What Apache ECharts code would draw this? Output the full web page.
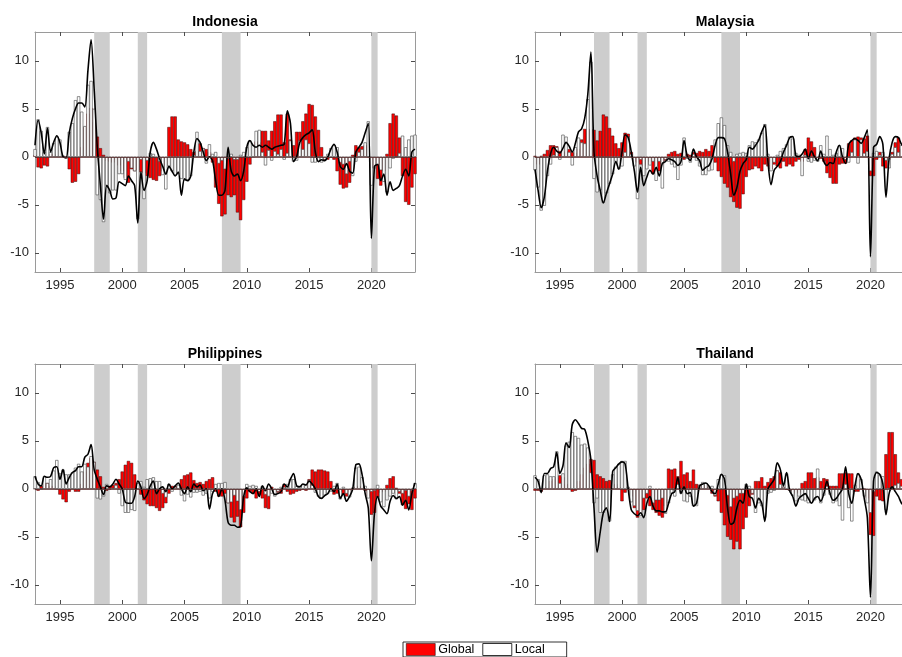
<!DOCTYPE html>
<html><head><meta charset="utf-8">
<script src="https://cdn.jsdelivr.net/npm/echarts@6/dist/echarts.min.js"></script>
<style>html,body{margin:0;padding:0;background:#fff}#c{width:902px;height:657px}</style>
</head><body><div id="c"></div>
<script>
const startYear = 1993;
const xTicks = [1995, 2000, 2005, 2010, 2015, 2020];
const yTicks = [-10, -5, 0, 5, 10];
const recessions = [[1997.75, 1999.0], [2001.25, 2002.0], [2008.0, 2009.5], [2020.0, 2020.5]];
const countries = ['Indonesia', 'Malaysia', 'Philippines', 'Thailand'];

const indonesiaGlobal = [
 0.2,-1.1,-1.2,-0.9, -1.0,0.3,0.3,0.1, 0.1,0.1,0.0,-1.3, -2.7,-2.6,-1.8,1.0,
 3.1,4.5,5.1,3.6, 2.1,0.9,0.2,-0.4, -0.5,-0.6,-0.3,-0.9, -1.5,-2.2,-2.7,-1.3,
 -1.5,-1.4,-1.6,-1.7, -2.0,-2.2,-2.4,-2.5, -2.0,-1.5,-0.9,3.1, 4.2,4.2,1.8,1.6,
 1.5,1.3,0.8,0.5, 0.6,1.4,0.9,0.8, 0.5,-0.6,-3.2,-4.9, -6.2,-6.0,-4.0,-4.2,
 -4.0,-5.8,-6.6,-4.5, -2.6,-0.8,0.0,1.6, 1.5,2.7,2.7,1.7, 2.7,3.7,4.4,4.4,
 1.5,4.5,1.8,1.2, 2.6,2.6,3.7,4.5, 5.5,5.4,4.2,2.8, 1.0,-0.4,-0.3,-0.1,
 -0.3,-1.5,-2.9,-3.3, -3.2,-2.7,0.2,1.2, 1.0,1.1,1.2,0.0, -1.2,-1.1,-2.3,-3.0,
 -1.5,0.3,3.5,4.5, 4.3,2.0,-2.0,-4.7, -5.0,-3.2,-1.8];
const indonesiaLocal = [
 0.8,3.9,2.7,0.5, 3.1,0.5,1.4,2.1, 1.8,0.1,-0.2,2.6, 3.5,5.9,6.3,4.7,
 3.2,7.5,7.9,5.0, -4.0,-4.5,-6.8,-3.0, -3.8,-3.5,-3.5,-1.8, -1.8,-2.4,-0.5,-1.2,
 -1.5,-6.5,-0.3,-4.4, -0.4,0.4,0.3,-0.1, -0.5,-1.9,-3.4,-1.0, -1.5,-1.9,-1.8,-2.3,
 -2.5,-2.4,-2.0,0.2, 2.6,0.6,0.9,-0.7, 1.3,0.3,0.5,-0.7, -0.4,-1.3,-0.2,0.3,
 -0.3,-0.3,0.2,0.5, 1.0,1.7,1.2,2.7, 2.8,0.5,-0.9,0.7, -0.4,0.6,0.3,0.8,
 -0.3,0.4,1.7,-0.5, -0.4,1.7,0.8,1.8, 1.4,-0.6,-0.6,-0.5, -0.6,-0.3,0.3,0.9,
 1.2,1.0,-0.6,-0.8, -1.8,-0.5,-2.0,-0.5, 0.5,0.8,1.5,3.7, -3.0,-1.2,-0.8,-1.4,
 -2.6,-3.7,-1.2,-0.2, 0.0,0.4,2.2,1.0, 1.8,2.2,2.3];
const indonesiaTotal = [
 1.2,3.8,2.5,0.3, 3.0,0.5,1.5,2.2, 1.5,0.0,-0.1,2.5, 4.0,5.0,5.6,5.6,
 5.2,9.0,12.2,7.0, 1.0,-3.0,-6.5,-3.0, -3.5,-4.4,-4.3,-2.6, -2.8,-3.0,-2.0,-2.5,
 -3.0,-6.9,-1.6,-3.5, -2.5,0.5,1.5,0.8, -0.2,-1.0,-1.8,-1.0, -1.5,-2.0,-1.6,-4.0,
 -2.3,-2.5,-2.0,0.5, 1.9,1.5,0.5,-0.4, 0.0,-0.4,-2.5,-4.0, -4.0,-3.5,1.0,-1.5,
 -2.0,-1.8,-2.5,-1.5, 1.0,1.7,1.2,1.0, 1.2,1.0,1.2,1.0, 0.8,1.0,1.1,1.2,
 1.3,4.8,3.5,-0.5, 0.0,1.5,2.0,2.3, 2.5,2.8,0.5,-0.5, -0.3,-0.4,0.0,0.8,
 1.3,0.5,-1.0,-1.3, -0.7,-1.5,-1.7,0.5, 1.0,1.5,2.5,3.5, -8.5,-1.0,-0.8,-2.5,
 -1.8,-4.0,-2.6,-3.5, -3.3,-3.0,-2.0,-1.3, -2.0,0.5,0.8];

const malaysiaGlobal = [
 0.1,-0.8,0.1,0.3, 0.7,1.2,1.2,1.1, 0.6,0.5,0.6,0.8, 0.5,0.4,0.8,1.8,
 2.9,2.9,2.9,2.8, 1.7,2.7,4.4,4.2, 3.0,2.2,1.4,0.9, 1.5,2.5,2.4,0.5,
 -0.5,-0.6,-0.8,-1.0, -0.8,-0.5,-1.8,-1.0, -1.5,-0.8,-0.4,0.3, 0.5,0.6,0.3,0.4,
 -0.3,0.3,0.2,0.5, 0.4,0.6,0.5,0.8, 0.6,1.2,-0.6,-1.5, -2.1,-2.8,-3.2,-4.2,
 -4.7,-5.3,-5.4,-3.9, -2.1,-1.4,-1.3,-1.0, -1.2,-1.5,-0.8,-1.0, -1.3,-0.8,-1.0,-1.2,
 -0.5,-1.0,-0.8,-1.0, -0.5,-0.3,-0.5,0.8, 2.0,1.6,1.0,-0.2, -0.2,-0.5,-1.7,-2.2,
 -2.8,-2.8,-0.8,-0.7, -0.7,1.4,1.7,2.0, 2.1,2.0,1.9,2.2, -2.0,-2.0,-0.3,0.5,
 -1.0,-1.2,-0.3,0.5, 1.5,2.0,0.8,1.0, 0.8,0.6,0.5];
const malaysiaLocal = [
 -1.4,-3.2,-5.6,-5.1, -2.0,-0.8,0.2,1.0, -0.3,2.3,2.1,0.5, -0.9,1.0,2.0,1.5,
 1.4,6.0,9.9,-2.3, -3.7,-3.5,-4.8,-3.8, -2.8,-1.8,-0.5,-1.3, -1.0,0.5,2.1,0.3,
 -1.0,-4.4,-0.3,-2.0, -1.3,-0.9,-0.5,-2.5, -0.5,-3.3,-0.3,-0.5, -0.8,-1.1,-2.4,-0.9,
 2.0,-0.2,-0.6,0.3, -0.4,-1.0,-1.9,-1.9, -1.5,-1.4,1.8,3.5, 4.1,3.3,1.2,0.5,
 -0.5,0.3,0.4,0.5, 0.4,1.2,1.6,1.5, 1.8,2.5,3.4,0.3, -1.5,-0.6,0.2,0.6,
 0.9,1.3,2.1,1.9, 0.4,0.2,-2.0,0.2, -0.5,-0.6,-0.4,-0.5, 1.2,0.3,2.2,0.8,
 0.2,0.4,1.2,0.9, -0.3,-0.6,0.5,1.8, -0.7,1.8,0.4,0.6, -1.5,0.4,0.6,0.2,
 0.5,-0.4,-1.2,0.3, 1.0,0.5,1.2,0.3, 0.2,0.3,0.3];
const malaysiaTotal = [
 -1.3,-3.5,-5.3,-4.2, -1.5,0.3,1.0,0.6, 0.4,0.9,1.5,1.1, 0.5,1.4,2.6,2.9,
 4.0,6.5,10.9,0.5, -2.0,-3.5,-4.8,-3.8, -2.8,-1.8,-0.5,-1.3, 0.5,2.3,2.0,0.5,
 -1.5,-3.7,-1.1,-3.0, -2.1,-1.4,-1.8,-1.1, -2.0,-0.7,-0.5,-0.2, -0.3,-0.5,-0.9,-0.5,
 1.7,0.1,-0.4,0.8, 0.0,-0.4,-1.4,-1.1, -0.9,-0.2,1.2,2.0, 2.0,1.9,0.5,-1.8,
 -4.0,-3.2,-1.5,-0.7, -0.3,1.0,0.8,1.2, 1.7,2.6,3.3,-0.5, -2.9,-1.4,-1.0,-0.5,
 0.5,1.2,2.0,2.1, 0.1,0.0,0.3,0.8, -0.2,0.6,0.0,-0.4, 0.6,-0.5,-0.9,-0.6,
 -0.7,0.5,1.2,0.0, -0.7,1.3,1.7,1.9, 1.7,1.4,2.0,2.8, -10.4,1.0,1.3,2.1,
 1.3,-4.2,-0.2,1.5, 2.1,2.0,1.3,1.0, 1.0,0.8,0.7];

const philippinesGlobal = [
 0.0,-0.2,0.3,0.6, 0.6,0.3,0.3,0.0, -0.6,-1.1,-1.4,-0.3, 0.0,-0.3,-0.3,0.5,
 1.8,2.7,3.2,2.8, 2.0,1.3,0.2,-0.2, 0.3,0.4,0.6,1.0, 1.8,2.5,2.9,2.7,
 1.5,0.2,-0.6,-1.2, -1.6,-1.8,-1.8,-2.0, -2.3,-2.0,-1.5,-0.5, 0.3,0.3,0.2,1.0,
 1.4,1.5,1.7,0.9, 0.6,0.7,0.5,0.8, 1.0,1.2,-0.3,-0.8, -0.8,-0.5,-1.5,-3.0,
 -3.5,-2.9,-4.0,-2.5, -1.0,-0.3,-0.5,-1.0, -0.6,-1.0,-2.0,-2.1, 0.2,-0.3,-0.4,-0.5,
 0.5,-0.3,-0.6,-0.5, -0.3,-0.2,-0.1,-0.2, 1.0,2.0,1.8,2.0, 2.0,1.9,1.8,0.8,
 -0.6,-0.5,-0.3,-0.6, -0.8,-0.3,0.1,0.2, 0.3,0.2,-0.2,-0.8, -2.7,-2.5,-0.9,-0.4,
 -0.3,0.4,1.1,1.3, 0.1,-0.5,-1.7,-2.1, -1.6,-2.2,-1.0];
const philippinesLocal = [
 1.3,0.7,0.0,1.3, 0.6,1.0,1.9,3.0, 1.6,2.0,1.5,1.5, 1.7,2.2,2.6,1.8,
 2.6,2.3,3.4,2.8, -1.0,-1.1,-0.8,0.5, -0.1,0.1,0.4,-0.5, -1.8,-2.5,-2.5,-2.2,
 -2.3,0.6,0.8,0.2, 1.0,1.1,1.2,0.8, 0.8,-0.5,-0.9,0.5, -0.3,0.2,0.4,-0.7,
 -1.3,-0.6,-0.9,-0.4, -0.4,-0.3,-0.7,-0.5, -1.0,-0.3,0.5,0.6, 0.6,0.7,-1.5,-1.4,
 -0.7,-1.3,-2.2,-0.8, 0.5,0.3,0.4,0.3, -0.3,0.3,-0.6,-0.8, -0.5,-0.8,-0.3,0.2,
 0.2,0.5,1.0,1.0, 0.3,0.3,0.5,0.4, 0.9,0.4,-0.4,-0.8, -1.0,-0.7,-0.5,-0.3,
 0.3,0.6,-1.1,0.2, -0.5,-0.9,0.1,2.2, 2.3,1.2,0.3,-1.0, -0.3,-0.2,0.4,-1.4,
 -1.9,-1.2,-0.8,-0.5, -1.1,-0.3,-0.5,-0.2, -0.8,-0.2,0.6];
const philippinesTotal = [
 1.3,0.5,0.3,1.3, 1.2,1.3,2.2,2.3, 1.0,2.0,0.5,1.2, 1.7,1.9,2.3,2.3,
 3.3,3.6,4.6,2.0, 1.0,0.2,-0.6,0.3, 0.2,0.5,1.0,0.5, 0.0,-1.4,-1.5,-1.5,
 -0.8,0.8,0.2,-1.0, -0.6,0.3,0.8,-0.5, 0.0,0.2,-0.3,0.5, 0.0,0.3,0.6,0.0,
 -0.5,0.2,-0.3,0.5, 0.2,0.4,-0.2,0.0, -2.1,-0.5,0.0,-0.8, 0.0,-1.2,-3.5,-3.8,
 -3.8,-4.0,-3.9,-0.8, 0.1,-0.3,-0.5,0.0, -0.8,0.3,-0.2,0.5, 0.0,-0.6,-0.5,-0.3,
 0.5,0.2,1.0,1.6, 0.3,0.2,0.5,0.4, 0.8,0.5,0.0,-0.8, -1.0,-0.7,-0.5,0.0,
 -0.3,0.5,-1.0,-0.5, -1.3,-0.8,0.0,2.5, 2.6,1.5,-0.5,-2.0, -7.5,-2.5,-0.8,-1.8,
 -2.2,-2.6,-1.3,-0.7, -1.0,-0.8,-1.7,-1.2, -2.2,-0.5,0.6];

const thailandGlobal = [
 -0.2,-0.2,-0.3,0.2, 0.1,0.8,1.0,1.2, 1.4,1.2,0.5,0.1, -0.3,-0.2,0.8,1.5,
 2.2,2.6,3.1,3.0, 1.5,1.3,1.1,0.8, 0.9,0.4,0.5,0.2, -1.3,-0.4,0.0,-0.8,
 -2.0,-3.0,-2.5,-2.2, -1.0,-1.8,-2.2,-2.5, -2.8,-3.0,-1.8,2.1, 2.0,2.1,1.3,2.9,
 1.5,1.7,0.8,2.0, 0.5,0.4,0.5,0.4, 0.2,-0.5,-0.8,-1.3, -2.5,-3.8,-5.0,-5.3,
 -6.3,-5.5,-6.3,-4.2, -3.0,-1.8,-0.6,0.8, 0.8,1.2,0.3,0.7, 1.1,1.3,1.9,1.7,
 0.2,-0.1,-0.2,-0.3, -0.5,-0.4,0.6,0.8, 1.7,1.7,1.1,1.2, 0.8,1.1,1.0,0.3,
 0.3,0.3,1.6,1.6, 1.7,1.6,1.6,-0.3, -0.3,0.0,0.0,-1.0, -4.8,-4.9,-0.8,-1.2,
 -1.3,3.6,5.9,5.9, 3.6,1.7,1.0,0.8, 0.5,0.3,0.2];
const thailandLocal = [
 1.4,1.0,-0.1,1.4, 1.5,1.3,1.3,3.9, 0.6,1.6,4.5,4.9, 5.9,5.5,5.3,4.6,
 4.7,4.3,1.7,-1.5, -1.0,-2.5,-2.5,-2.0, -3.4,1.5,2.3,2.6, 2.9,2.9,0.2,-1.4,
 -1.8,-2.3,-2.8,-1.0, -0.5,0.3,-1.5,-1.2, -1.2,-1.0,-2.6,-1.5, -0.5,-0.8,0.5,-0.5,
 -1.3,-1.4,-0.8,-1.8, -1.8,0.4,0.7,0.6, 0.2,0.3,-0.7,1.0, 1.5,1.4,-0.7,-1.9,
 -1.0,-0.8,-0.5,-0.5, 0.5,0.3,-0.5,-2.5, -1.5,-1.8,-3.0,-0.5, -0.4,-0.2,1.9,0.5,
 0.2,1.6,-0.2,-0.7, -1.3,-0.8,-1.2,-1.3, -1.5,-1.5,-1.2,2.1, -1.5,-0.7,0.3,-0.6,
 -1.5,-1.3,-1.8,-3.3, 0.5,-2.0,-3.4,0.4, 1.6,1.0,-0.8,-1.5, -2.5,-0.3,1.8,1.5,
 1.3,-2.2,0.1,0.1, 0.4,0.6,0.3,-0.5, -0.5,-0.3,-0.3];
const thailandTotal = [
 1.2,0.8,-0.4,1.6, 1.6,2.1,2.3,3.8, 1.6,2.4,4.8,4.3, 6.7,7.2,6.8,6.3,
 6.2,5.0,3.0,-2.0, -6.6,-4.5,-2.5,-2.0, -3.4,1.8,2.2,2.6, 2.8,2.6,0.0,-2.2,
 -2.6,-2.8,-2.5,-3.0, -1.5,-0.8,-1.8,-2.3, -2.3,-2.4,-2.4,-1.5, -0.5,-0.3,1.2,-0.5,
 0.2,-0.5,-0.4,-1.8, -1.5,0.3,0.5,0.6, 0.3,-0.3,-0.5,0.5, 1.5,1.0,-2.0,-3.7,
 -3.5,-2.0,-1.2,-1.5, 0.5,-0.8,-1.0,-2.0, -1.0,-1.5,-3.4,0.0, 0.5,1.0,2.7,2.0,
 0.3,1.7,-0.2,-0.8, -1.8,-1.0,-0.7,-0.5, -1.0,-1.5,-1.0,-0.8, -1.3,-0.5,0.8,-0.5,
 -1.2,-1.0,-0.5,0.0, 2.3,-0.5,-1.5,0.3, 1.6,1.0,-1.0,-3.0, -11.3,0.8,1.7,1.5,
 0.5,-2.7,-0.5,0.2, -0.3,-0.8,-1.5,-1.8, -2.0,-2.0,-1.8];

const globalSeries = [indonesiaGlobal, malaysiaGlobal, philippinesGlobal, thailandGlobal];
const localSeries = [indonesiaLocal, malaysiaLocal, philippinesLocal, thailandLocal];
const totalSeries = [indonesiaTotal, malaysiaTotal, philippinesTotal, thailandTotal];

const FONT = '"Liberation Sans", Arial, Helvetica, sans-serif';
// panels on the right are cropped at the page edge in the reference
const layout = [
  {left: 35, top: 32, width: 380, height: 240, xMax: 2023.5, cropped: false},
  {left: 535, top: 32, width: 367, height: 240, xMax: 2022.54, cropped: true},
  {left: 35, top: 364, width: 380, height: 240, xMax: 2023.5, cropped: false},
  {left: 535, top: 364, width: 367, height: 240, xMax: 2022.54, cropped: true}
];

const grids = [], xAxes = [], yAxes = [], series = [], graphics = [];
const tickStyle = {color: '#4d4d4d', width: 1};
const boxLine = {show: true, onZero: false, lineStyle: {color: '#9a9a9a', width: 1}};
layout.forEach((g, k) => {
  grids.push({left: g.left, top: g.top, width: g.width, height: g.height, show: false, containLabel: false});
  const xBase = {type: 'value', gridIndex: k, min: 1993, max: g.xMax, splitLine: {show: false}, axisLine: boxLine};
  xAxes.push(Object.assign({}, xBase, {position: 'bottom',
    axisTick: {show: true, inside: true, length: 4, customValues: xTicks, lineStyle: tickStyle},
    axisLabel: {show: true, customValues: xTicks, formatter: v => String(v), color: '#262626',
      fontSize: 13, fontFamily: FONT, margin: 7}}));
  xAxes.push(Object.assign({}, xBase, {position: 'top',
    axisTick: {show: true, inside: true, length: 4, customValues: xTicks, lineStyle: tickStyle},
    axisLabel: {show: false}}));
  const yBase = {type: 'value', gridIndex: k, min: -12, max: 13, splitLine: {show: false}};
  yAxes.push(Object.assign({}, yBase, {position: 'left', axisLine: boxLine,
    axisTick: {show: true, inside: true, length: 4, customValues: yTicks, lineStyle: tickStyle},
    axisLabel: {show: true, customValues: yTicks, color: '#262626', fontSize: 13, fontFamily: FONT, margin: 6}}));
  yAxes.push(Object.assign({}, yBase, {position: 'right',
    axisLine: g.cropped ? {show: false} : boxLine,
    axisTick: {show: !g.cropped, inside: true, length: 4, customValues: yTicks, lineStyle: tickStyle},
    axisLabel: {show: false}}));

  const xi = 2 * k, yi = 2 * k;
  const G = globalSeries[k], L = localSeries[k], T = totalSeries[k];
  const xs = G.map((_, i) => startYear + i * 0.25);

  series.push({type: 'line', xAxisIndex: xi, yAxisIndex: yi, data: [], silent: true, z: 1,
    markArea: {silent: true, itemStyle: {color: '#cdcdcd'},
      data: recessions.map(r => [{xAxis: r[0]}, {xAxis: r[1]}])}});
  series.push({type: 'bar', name: 'Global', xAxisIndex: xi, yAxisIndex: yi, stack: 'st' + k,
    data: xs.map((x, i) => [x, G[i]]), barWidth: 3.2, z: 2,
    itemStyle: {color: '#ff0000', borderColor: '#3a0a0a', borderWidth: 0.5}});
  series.push({type: 'bar', name: 'Local', xAxisIndex: xi, yAxisIndex: yi, stack: 'st' + k,
    data: xs.map((x, i) => [x, L[i]]), barWidth: 3.2, z: 2,
    itemStyle: {color: '#ffffff', borderColor: '#444444', borderWidth: 0.6}});
  series.push({type: 'line', name: 'Total', xAxisIndex: xi, yAxisIndex: yi, z: 4,
    data: xs.map((x, i) => [x, T[i]]), symbol: 'none', showSymbol: false, smooth: 0.3,
    lineStyle: {color: '#000000', width: 1.6},
    markLine: {silent: true, symbol: 'none', label: {show: false},
      lineStyle: {color: '#5a3030', width: 0.8, type: 'solid'}, data: [{yAxis: 0}]}});

  const cx = g.cropped ? g.left + 190 : g.left + g.width / 2;
  graphics.push({type: 'text', x: cx, y: g.top - 10,
    style: {text: countries[k], font: 'bold 14px ' + FONT, fill: '#000',
      textAlign: 'center', textVerticalAlign: 'middle', align: 'center', verticalAlign: 'middle'}});
});

const chart = echarts.init(document.getElementById('c'), null, {renderer: 'canvas'});
chart.setOption({
  animation: false,
  backgroundColor: '#ffffff',
  textStyle: {fontFamily: FONT},
  grid: grids,
  xAxis: xAxes,
  yAxis: yAxes,
  series: series,
  graphic: graphics,
  legend: {
    left: 403, top: 642, orient: 'horizontal', icon: 'rect',
    itemWidth: 29, itemHeight: 12, itemGap: 8,
    padding: [1, 22, 1, 3], borderColor: '#000', borderWidth: 0.8,
    textStyle: {fontSize: 12.5, color: '#000', fontFamily: FONT, padding: [0, 0, 0, -2]},
    data: [
      {name: 'Global', itemStyle: {color: '#ff0000', borderColor: '#000', borderWidth: 0.5}},
      {name: 'Local', itemStyle: {color: '#ffffff', borderColor: '#000', borderWidth: 0.8}}
    ]
  }
});
</script>
</body></html>
